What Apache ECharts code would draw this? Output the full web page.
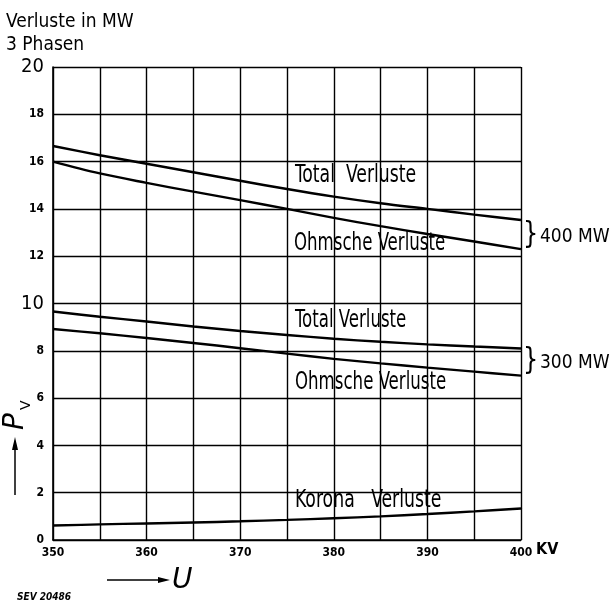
<!DOCTYPE html>
<html>
<head>
<meta charset="utf-8">
<script src="https://cdn.jsdelivr.net/npm/echarts@6/dist/echarts.min.js"></script>
<style>
html,body{margin:0;padding:0;background:#fff;}
#c{width:614px;height:603px;}
</style>
</head>
<body>
<div id="c"></div>
<script>
var voltages = [350, 355, 360, 365, 370, 375, 380, 385, 390, 395, 400];
var total400 = [16.66, 16.27, 15.91, 15.55, 15.19, 14.84, 14.52, 14.24, 14.00, 13.76, 13.53];
var ohm400   = [16.00, 15.50, 15.10, 14.73, 14.37, 14.00, 13.62, 13.27, 12.94, 12.62, 12.30];
var total300 = [9.66, 9.44, 9.24, 9.03, 8.84, 8.67, 8.51, 8.38, 8.27, 8.18, 8.10];
var ohm300   = [8.92, 8.74, 8.54, 8.33, 8.11, 7.88, 7.66, 7.47, 7.29, 7.12, 6.95];
var korona   = [0.61, 0.66, 0.70, 0.74, 0.79, 0.85, 0.92, 1.00, 1.10, 1.21, 1.33];
var bigTicks = [10, 20];

function pairs(ys){ return voltages.map(function(x,i){ return [x, ys[i]]; }); }

var FN = '"DejaVu Sans Condensed", sans-serif';
var chart = echarts.init(document.getElementById('c'), null, {renderer:'canvas'});

function line(d){
  return {type:'line', data:pairs(d), smooth:0.35, symbol:'none',
    lineStyle:{color:'#000', width:2.4}, z:5};
}

function txt(x, y, t, font, sx){
  return {type:'text', x:x, y:y, scaleX: sx || 1,
    style:{text:t, fill:'#000', font:font, textVerticalAlign:'middle'}, z:10};
}
var ANN = 'normal 24px "DejaVu Sans Condensed", sans-serif';
var ANNS = 0.77;
var LAB = 'normal 19px "DejaVu Sans Condensed", sans-serif';

chart.setOption({
  animation:false,
  backgroundColor:'#fff',
  grid:{left:53, right:93, top:67, bottom:63, show:false},
  xAxis:{type:'value', min:350, max:400, interval:5,
    axisLine:{show:true, lineStyle:{color:'#000', width:1.6}},
    axisTick:{show:false},
    splitLine:{show:true, lineStyle:{color:'#000', width:1.4}},
    axisLabel:{color:'#000', fontFamily:FN, fontWeight:'bold', fontSize:12, margin:7,
      formatter:function(v){ return v % 10 === 0 ? String(v) : ''; }}
  },
  yAxis:{type:'value', min:0, max:20, interval:2,
    axisLine:{show:true, lineStyle:{color:'#000', width:1.6}},
    axisTick:{show:false},
    splitLine:{show:true, lineStyle:{color:'#000', width:1.4}},
    axisLabel:{color:'#000', margin:9,
      formatter:function(v){ return bigTicks.indexOf(v) >= 0 ? '{b|' + v + '}' : '{s|' + v + '}'; },
      rich:{
        b:{fontFamily:FN, fontSize:20, color:'#000'},
        s:{fontFamily:FN, fontWeight:'bold', fontSize:12, color:'#000'}
      }}
  },
  series:[line(total400), line(ohm400), line(total300), line(ohm300), line(korona)],
  graphic:[
    txt(6, 22, 'Verluste in MW', LAB, 1.0),
    txt(6, 45, '3 Phasen', LAB, 1.0),
    txt(295, 176, 'Total  Verluste', ANN, 0.8),
    txt(294, 244, 'Ohmsche Verluste', ANN, ANNS),
    txt(295, 321, 'Total Verluste', ANN, ANNS),
    txt(295, 383, 'Ohmsche Verluste', ANN, ANNS),
    txt(295, 501, 'Korona   Verluste', ANN, 0.8),
    txt(523, 235, '}', 'normal 30px "DejaVu Sans", sans-serif', 0.8),
    txt(540, 237, '400 MW', 'normal 20px "DejaVu Sans Condensed", sans-serif', 0.95),
    txt(523, 361, '}', 'normal 30px "DejaVu Sans", sans-serif', 0.8),
    txt(540, 363, '300 MW', 'normal 20px "DejaVu Sans Condensed", sans-serif', 0.95),
    txt(536, 550, 'KV', 'bold 16px "DejaVu Sans Condensed", sans-serif'),
    {type:'line', shape:{x1:107, y1:580, x2:166, y2:580}, style:{stroke:'#000', lineWidth:1.5}, z:10},
    {type:'polygon', shape:{points:[[158,577],[170,580],[158,583]]}, style:{fill:'#000'}, z:10},
    txt(172, 581, 'U', 'italic 28px "DejaVu Sans", sans-serif'),
    txt(17, 597, 'SEV 20486', 'italic bold 10px "DejaVu Sans Condensed", sans-serif'),
    {type:'line', shape:{x1:15, y1:495, x2:15, y2:446}, style:{stroke:'#000', lineWidth:1.5}, z:10},
    {type:'polygon', shape:{points:[[12,450],[15,437],[18,450]]}, style:{fill:'#000'}, z:10},
    {type:'text', x:30, y:430, rotation:Math.PI/2, style:{text:'P', font:'italic 28px "DejaVu Sans", sans-serif', fill:'#000', textVerticalAlign:'bottom'}, z:10},
    {type:'text', x:33, y:410, rotation:Math.PI/2, style:{text:'V', font:'normal 14px "DejaVu Sans", sans-serif', fill:'#000', textVerticalAlign:'bottom'}, z:10}
  ]
});
</script>
</body>
</html>
